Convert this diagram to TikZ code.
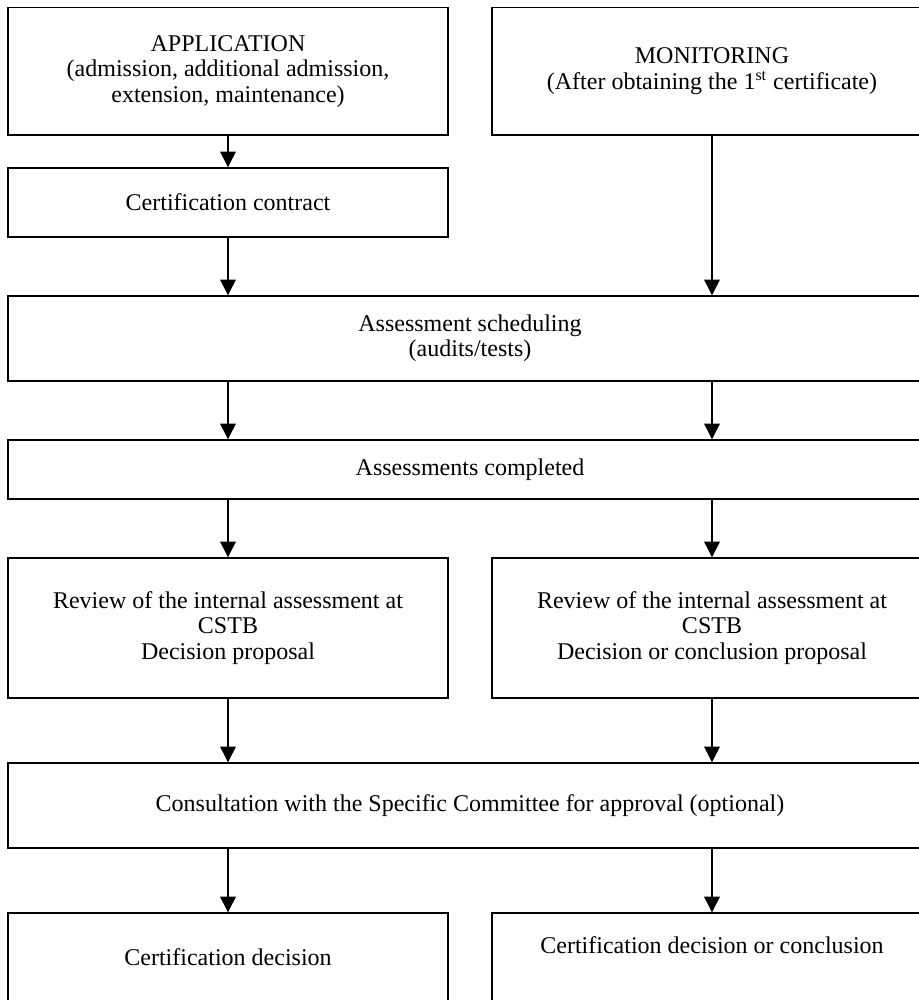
\documentclass[tikz,border=0pt]{standalone}
\usepackage{fontspec}
\setmainfont{Liberation Serif}
\usetikzlibrary{arrows.meta}
\begin{document}
\begin{tikzpicture}[x=0.5pt,y=-0.5pt,
  box/.style={draw, line width=0.7pt, inner sep=0pt, align=center,
    font=\fontsize{12}{12.7}\selectfont},
  lbox/.style={box, minimum width=220pt},
  wbox/.style={box, minimum width=462pt},
  arr/.style={line width=0.6pt, -{Triangle[width=7.8pt,length=7.8pt]}}]
\useasboundingbox (0,0) rectangle (918,1000);
\node[lbox, minimum height=63.75pt] (app) at (228,71.25)
  {APPLICATION\\(admission, additional admission,\\extension, maintenance)};
\node[lbox, minimum height=63.75pt] (mon) at (712,71.25)
  {MONITORING\\(After obtaining the 1\textsuperscript{st} certificate)};
\node[lbox, minimum height=34.5pt] (cc) at (228,202.5) {Certification contract};
\node[wbox, minimum height=42.5pt] (sched) at (470,338.5)
  {Assessment scheduling\\(audits/tests)};
\node[wbox, minimum height=29.5pt] (comp) at (470,469.5) {Assessments completed};
\node[lbox, minimum height=70pt] (revL) at (228,628)
  {Review of the internal assessment at\\CSTB\\Decision proposal};
\node[lbox, minimum height=70pt] (revR) at (712,628)
  {Review of the internal assessment at\\CSTB\\Decision or conclusion proposal};
\node[wbox, minimum height=42.5pt] (cons) at (470,805.5)
  {Consultation with the Specific Committee for approval (optional)};
\node[lbox, minimum height=47pt, text height=8pt, text depth=2.5pt] (decL) at (228,960)
  {Certification decision};
\node[lbox, minimum height=47pt, text height=8pt, text depth=14.5pt] (decR) at (712,960)
  {Certification decision or conclusion};
\draw[arr] (app.south) -- (cc.north);
\draw[arr] (cc.south) -- (cc.south |- sched.north);
\draw[arr] (mon.south) -- (mon.south |- sched.north);
\draw[arr] (revL.north |- sched.south) -- (revL.north |- comp.north);
\draw[arr] (revR.north |- sched.south) -- (revR.north |- comp.north);
\draw[arr] (revL.north |- comp.south) -- (revL.north);
\draw[arr] (revR.north |- comp.south) -- (revR.north);
\draw[arr] (revL.south) -- (revL.south |- cons.north);
\draw[arr] (revR.south) -- (revR.south |- cons.north);
\draw[arr] (decL.north |- cons.south) -- (decL.north);
\draw[arr] (decR.north |- cons.south) -- (decR.north);
\end{tikzpicture}
\end{document}
